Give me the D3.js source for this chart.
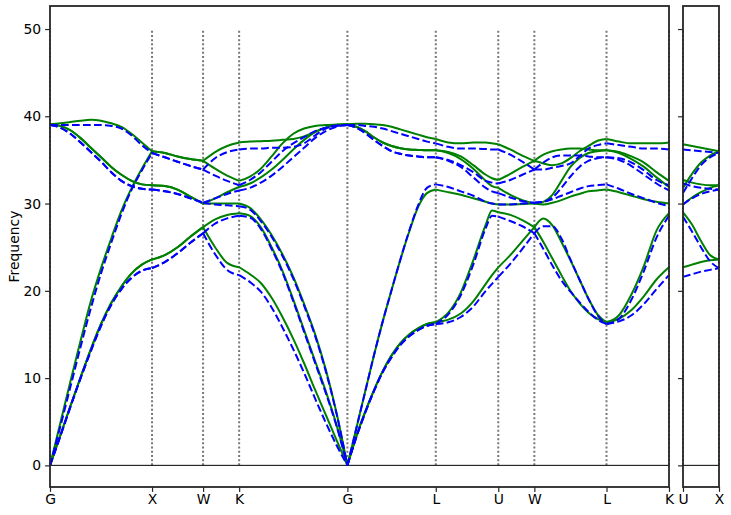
<!DOCTYPE html>
<html>
<head>
<meta charset="utf-8">
<script src="https://cdn.jsdelivr.net/npm/d3@7/dist/d3.min.js"></script>
<style>
  html, body { margin: 0; padding: 0; background: #fff; }
  svg { display: block; }
  text { font-family: "DejaVu Sans", sans-serif; }
</style>
</head>
<body>
<svg id="chart" width="731" height="515"></svg>
<script>
// ---------- path / tick data ----------
const qLabels = ["G", "X", "W", "K", "G", "L", "U", "W", "L", "K"];
const segLen = [1.0, 0.5, 0.3536, 1.0607, 0.866, 0.6124, 0.3536, 0.7071, 0.6124];
const rightLabels = ["U", "X"];
const rightLen = [0.3536];
const yTicks = [0, 10, 20, 30, 40, 50];

// sampling fractions along each segment
const fr11 = [0, 0.1, 0.2, 0.3, 0.4, 0.5, 0.6, 0.7, 0.8, 0.9, 1];
const fr5 = [0, 0.25, 0.5, 0.75, 1];
const fr4 = [0, 1 / 3, 2 / 3, 1];
const fr7 = [0, 0.2, 0.4, 0.6, 0.8, 0.9, 1];
const fr9 = [0, 0.125, 0.25, 0.375, 0.5, 0.625, 0.75, 0.875, 1];
const fr6 = [0, 0.2, 0.4, 0.6, 0.8, 1];
const segFr = [fr11, fr5, fr4, fr11, fr11, fr7, fr4, fr9, fr6];
const rightFr = [fr5];

// ---------- green (solid) branches ----------
const gGX = [
  [0, 3.4, 6.8, 10.1, 13.3, 16.2, 18.6, 20.5, 22.0, 23.0, 23.6],
  [0, 3.4, 6.8, 10.1, 13.3, 16.2, 18.6, 20.5, 22.0, 23.0, 23.6],
  [0, 4.8, 9.6, 14.3, 18.8, 22.6, 26.0, 29.2, 31.8, 34.0, 36.0],
  [39.1, 38.9, 38.4, 37.5, 36.4, 35.3, 34.2, 33.3, 32.6, 32.2, 32.1],
  [39.1, 38.9, 38.4, 37.5, 36.4, 35.3, 34.2, 33.3, 32.6, 32.2, 32.1],
  [39.1, 39.2, 39.35, 39.5, 39.6, 39.5, 39.2, 38.8, 38.0, 37.0, 36.0]
];
const gXW = [
  [23.6, 24.1, 25.0, 26.2, 27.3],
  [23.6, 24.1, 25.0, 26.2, 27.3],
  [32.1, 32.0, 31.6, 30.8, 30.0],
  [32.1, 32.0, 31.6, 30.8, 30.0],
  [36.0, 35.8, 35.4, 35.1, 34.9],
  [36.0, 35.8, 35.4, 35.1, 34.9]
];
const gWK = [
  [27.3, 25.0, 23.2, 22.7],
  [27.3, 28.2, 28.7, 28.9],
  [30.0, 30.0, 30.0, 30.0],
  [30.0, 30.6, 31.3, 31.9],
  [34.9, 34.0, 33.2, 32.6],
  [34.9, 35.9, 36.6, 37.0]
];
const gKG = [
  [22.7, 21.9, 20.9, 19.2, 17.0, 14.5, 11.7, 8.7, 5.8, 2.9, 0],
  [28.9, 28.6, 27.3, 25.0, 22.3, 19.0, 15.5, 12.0, 8.5, 4.6, 0],
  [30.0, 29.5, 28.2, 26.4, 24.2, 21.6, 18.5, 15.1, 11.0, 6.0, 0],
  [31.9, 32.3, 33.0, 33.9, 35.0, 36.2, 37.3, 38.2, 38.7, 39.0, 39.1],
  [32.6, 33.1, 34.0, 35.4, 36.9, 38.0, 38.6, 38.9, 39.0, 39.05, 39.1],
  [37.0, 37.1, 37.15, 37.2, 37.3, 37.4, 37.7, 38.2, 38.7, 39.0, 39.1]
];
const gGL = [
  [0, 3.3, 6.1, 8.6, 10.8, 12.6, 14.0, 15.0, 15.7, 16.2, 16.4],
  [0, 3.3, 6.1, 8.6, 10.8, 12.6, 14.0, 15.0, 15.7, 16.2, 16.4],
  [0, 4.2, 8.4, 12.6, 16.5, 20.1, 23.6, 26.8, 29.6, 31.2, 31.6],
  [39.1, 38.8, 38.3, 37.6, 37.0, 36.6, 36.35, 36.2, 36.15, 36.1, 36.1],
  [39.1, 38.8, 38.3, 37.6, 37.0, 36.6, 36.35, 36.2, 36.15, 36.1, 36.1],
  [39.1, 39.15, 39.15, 39.1, 39.0, 38.8, 38.5, 38.2, 37.9, 37.6, 37.4]
];
const gLU = [
  [16.4, 16.7, 17.4, 18.8, 20.8, 21.8, 22.7],
  [16.4, 17.5, 19.8, 23.5, 27.6, 29.2, 29.0],
  [31.6, 31.3, 31.0, 30.6, 30.2, 30.0, 29.9],
  [36.1, 35.8, 35.1, 34.0, 32.6, 32.0, 31.8],
  [36.1, 35.9, 35.4, 34.4, 33.3, 32.9, 32.7],
  [37.4, 37.0, 36.9, 37.0, 37.0, 36.9, 36.8]
];
const gUW = [
  [22.7, 24.1, 25.7, 27.3],
  [29.0, 28.7, 28.1, 27.3],
  [29.9, 29.9, 29.95, 30.0],
  [31.8, 31.0, 30.4, 30.0],
  [32.7, 33.4, 34.2, 34.9],
  [36.8, 36.2, 35.5, 34.9]
];
const gWL = [
  [27.3, 25.6, 23.7, 21.8, 20.0, 18.6, 17.5, 16.8, 16.4],
  [27.3, 28.3, 27.5, 25.6, 23.5, 21.3, 19.1, 17.3, 16.4],
  [30.0, 29.9, 30.1, 30.4, 30.8, 31.1, 31.4, 31.5, 31.6],
  [30.0, 30.2, 31.0, 32.6, 34.2, 35.2, 35.8, 36.0, 36.1],
  [34.9, 35.6, 36.0, 36.2, 36.3, 36.3, 36.2, 36.1, 36.1],
  [34.9, 34.6, 34.4, 34.6, 35.2, 36.0, 36.6, 37.2, 37.4]
];
const gLK = [
  [16.4, 16.8, 17.8, 19.4, 21.3, 22.7],
  [16.4, 17.2, 19.6, 22.9, 26.9, 28.9],
  [31.6, 31.3, 30.9, 30.5, 30.2, 30.0],
  [36.1, 35.8, 35.1, 34.2, 33.0, 31.9],
  [36.1, 35.9, 35.4, 34.7, 33.6, 32.6],
  [37.4, 37.1, 36.9, 36.9, 36.9, 37.0]
];
const gUX = [
  [22.7, 23.0, 23.3, 23.5, 23.6],
  [29.0, 27.6, 25.7, 24.1, 23.6],
  [29.9, 30.7, 31.3, 31.8, 32.1],
  [32.7, 32.4, 32.2, 32.1, 32.1],
  [31.8, 33.4, 34.7, 35.5, 36.0],
  [36.8, 36.6, 36.4, 36.2, 36.0]
];

// ---------- blue (dashed) branches ----------
const bGX = [
  [0, 3.3, 6.7, 10.0, 13.1, 16.0, 18.4, 20.2, 21.5, 22.3, 22.6],
  [0, 3.3, 6.7, 10.0, 13.1, 16.0, 18.4, 20.2, 21.5, 22.3, 22.6],
  [0, 4.4, 9.0, 13.6, 18.0, 22.0, 25.5, 28.8, 31.6, 33.8, 35.8],
  [39.0, 38.7, 38.0, 37.0, 35.9, 34.8, 33.6, 32.6, 32.0, 31.7, 31.6],
  [39.0, 38.7, 38.0, 37.0, 35.9, 34.8, 33.6, 32.6, 32.0, 31.7, 31.6],
  [39.0, 39.0, 39.0, 39.0, 39.0, 39.0, 38.9, 38.6, 37.8, 36.7, 35.8]
];
const bXW = [
  [22.6, 23.3, 24.3, 25.5, 26.6],
  [22.6, 23.3, 24.3, 25.5, 26.6],
  [31.6, 31.4, 31.1, 30.6, 30.1],
  [31.6, 31.4, 31.1, 30.6, 30.1],
  [35.8, 35.3, 34.8, 34.3, 33.9],
  [35.8, 35.3, 34.8, 34.3, 33.9]
];
const bWK = [
  [26.6, 24.2, 22.4, 21.8],
  [26.6, 27.7, 28.3, 28.6],
  [30.1, 29.9, 29.8, 29.7],
  [30.1, 30.6, 31.1, 31.5],
  [33.9, 33.2, 32.6, 32.1],
  [33.9, 35.2, 35.9, 36.2]
];
const bKG = [
  [21.8, 21.0, 19.9, 18.1, 15.8, 13.3, 10.6, 7.7, 4.9, 2.3, 0],
  [28.6, 28.4, 27.1, 24.8, 22.1, 18.8, 15.3, 11.8, 8.3, 4.5, 0],
  [29.7, 29.3, 28.0, 26.2, 24.0, 21.4, 18.3, 14.9, 10.8, 5.9, 0],
  [31.5, 31.8, 32.4, 33.2, 34.2, 35.3, 36.4, 37.5, 38.3, 38.8, 39.0],
  [32.1, 32.7, 33.6, 34.8, 36.0, 36.9, 37.6, 38.3, 38.7, 38.95, 39.0],
  [36.2, 36.3, 36.3, 36.4, 36.4, 36.5, 36.9, 37.8, 38.6, 38.9, 39.0]
];
const bGL = [
  [0, 3.2, 6.0, 8.5, 10.7, 12.4, 13.8, 14.8, 15.5, 16.0, 16.2],
  [0, 3.2, 6.0, 8.5, 10.7, 12.4, 13.8, 14.8, 15.5, 16.0, 16.2],
  [0, 4.2, 8.4, 12.6, 16.5, 20.1, 23.6, 26.9, 29.8, 31.8, 32.2],
  [39.0, 38.7, 38.1, 37.3, 36.6, 36.0, 35.7, 35.5, 35.4, 35.3, 35.3],
  [39.0, 38.7, 38.1, 37.3, 36.6, 36.0, 35.7, 35.5, 35.4, 35.3, 35.3],
  [39.0, 39.0, 38.9, 38.8, 38.6, 38.3, 38.0, 37.7, 37.4, 37.1, 36.9]
];
const bLU = [
  [16.2, 16.4, 17.0, 18.2, 20.0, 20.8, 21.6],
  [16.2, 17.3, 19.5, 23.0, 27.2, 28.6, 28.5],
  [32.2, 31.9, 31.4, 30.9, 30.2, 30.0, 29.9],
  [35.3, 34.9, 34.2, 33.0, 31.8, 31.4, 31.2],
  [35.3, 35.0, 34.4, 33.6, 32.6, 32.4, 32.3],
  [36.9, 36.5, 36.3, 36.3, 36.25, 36.2, 36.2]
];
const bUW = [
  [21.6, 23.1, 24.8, 26.6],
  [28.5, 28.0, 27.4, 26.6],
  [29.9, 29.9, 30.0, 30.1],
  [31.2, 30.7, 30.3, 30.1],
  [32.3, 32.7, 33.3, 33.9],
  [36.2, 35.6, 34.8, 33.9]
];
const bWL = [
  [26.6, 24.8, 22.9, 21.2, 19.9, 18.7, 17.6, 16.7, 16.2],
  [26.6, 27.4, 27.4, 26.0, 23.6, 21.3, 19.1, 17.2, 16.2],
  [30.1, 30.2, 30.5, 30.9, 31.3, 31.7, 32.0, 32.1, 32.2],
  [30.1, 30.2, 30.7, 31.8, 33.1, 34.2, 34.9, 35.2, 35.3],
  [33.9, 34.7, 35.3, 35.5, 35.5, 35.5, 35.4, 35.3, 35.3],
  [33.9, 33.9, 34.1, 34.3, 34.6, 35.4, 36.3, 36.7, 36.9]
];
const bLK = [
  [16.2, 16.5, 17.2, 18.5, 20.2, 21.8],
  [16.2, 16.8, 19.0, 22.3, 26.1, 28.6],
  [32.2, 31.7, 31.1, 30.6, 30.1, 29.7],
  [35.3, 35.0, 34.3, 33.3, 32.3, 31.5],
  [35.3, 35.2, 34.7, 33.8, 32.7, 32.1],
  [36.9, 36.7, 36.5, 36.3, 36.3, 36.2]
];
const bUX = [
  [21.6, 21.9, 22.2, 22.4, 22.6],
  [28.5, 26.8, 25.0, 23.4, 22.6],
  [29.9, 30.6, 31.1, 31.4, 31.6],
  [32.3, 32.0, 31.8, 31.7, 31.6],
  [31.2, 32.9, 34.4, 35.3, 35.8],
  [36.2, 36.1, 36.0, 35.9, 35.8]
];

const mainGreen = [gGX, gXW, gWK, gKG, gGL, gLU, gUW, gWL, gLK];
const mainBlue = [bGX, bXW, bWK, bKG, bGL, bLU, bUW, bWL, bLK];
const rightGreen = [gUX];
const rightBlue = [bUX];

// ---------- drawing ----------
const svg = d3.select("#chart");
const FONT = "13.9px";
const plotTop = 6, plotBottom = 487;

const y = d3.scaleLinear().domain([-2.48, 52.64]).range([plotBottom, plotTop]);

function cumulative(lens) {
  const out = [0];
  lens.forEach(l => out.push(out[out.length - 1] + l));
  return out;
}

function panel(lens, fracs, greenSegs, blueSegs, labels, x0, x1, showYLabels) {
  const pos = cumulative(lens);
  const x = d3.scaleLinear().domain([0, pos[pos.length - 1]]).range([x0, x1]);
  const g = svg.append("g");

  // vertical dotted lines at high-symmetry points
  g.selectAll("line.vsym").data(pos).join("line")
    .attr("class", "vsym")
    .attr("x1", d => x(d)).attr("x2", d => x(d))
    .attr("y1", y(0)).attr("y2", y(50))
    .attr("stroke", "#777").attr("stroke-width", 2)
    .attr("stroke-dasharray", "2,2.2");

  // zero line
  g.append("line")
    .attr("x1", x0).attr("x2", x1)
    .attr("y1", y(0)).attr("y2", y(0))
    .attr("stroke", "#000").attr("stroke-width", 1);

  const line = d3.line().x(d => x(d[0])).y(d => y(d[1])).curve(d3.curveMonotoneX);

  function drawSeries(segs, color, dash) {
    segs.forEach((seg, si) => {
      const start = pos[si], len = lens[si], fr = fracs[si];
      seg.forEach(band => {
        const pts = band.map((v, j) => [start + fr[j] * len, v]);
        g.append("path")
          .attr("d", line(pts))
          .attr("fill", "none")
          .attr("stroke", color)
          .attr("stroke-width", 2)
          .attr("stroke-dasharray", dash)
          .attr("stroke-linecap", "butt")
          .attr("stroke-linejoin", "round");
      });
    });
  }
  drawSeries(greenSegs, "#008000", null);
  drawSeries(blueSegs, "#0000ff", "7.7,3.3");

  // frame
  g.append("rect")
    .attr("x", x0).attr("y", plotTop)
    .attr("width", x1 - x0).attr("height", plotBottom - plotTop)
    .attr("fill", "none").attr("stroke", "#262626").attr("stroke-width", 1.8);

  // x axis
  const xa = g.append("g").attr("transform", `translate(0,${plotBottom})`)
    .call(d3.axisBottom(x).tickValues(pos).tickFormat((d, i) => labels[i])
      .tickSize(4.9).tickSizeOuter(0).tickPadding(2.5));
  xa.select(".domain").remove();
  xa.selectAll("line").attr("stroke", "#262626").attr("stroke-width", 1.2);
  xa.selectAll("text").style("font-size", FONT).attr("fill", "#000")
    .style("font-family", "'DejaVu Sans', sans-serif");

  // y axis
  const ya = g.append("g").attr("transform", `translate(${x0},0)`)
    .call(d3.axisLeft(y).tickValues(yTicks).tickSize(4.9).tickSizeOuter(0).tickPadding(4)
      .tickFormat(showYLabels ? d3.format("d") : () => ""));
  ya.select(".domain").remove();
  ya.selectAll("line").attr("stroke", "#262626").attr("stroke-width", 1.2);
  ya.selectAll("text").style("font-size", FONT).attr("fill", "#000")
    .style("font-family", "'DejaVu Sans', sans-serif");
}

panel(segLen, segFr, mainGreen, mainBlue, qLabels, 50, 669, true);
panel(rightLen, rightFr, rightGreen, rightBlue, rightLabels, 683, 719, false);

svg.append("text")
  .attr("transform", `translate(15,${(plotTop + plotBottom) / 2}) rotate(-90)`)
  .attr("text-anchor", "middle")
  .attr("dominant-baseline", "middle")
  .style("font-size", FONT)
  .text("Frequency");
</script>
</body>
</html>
